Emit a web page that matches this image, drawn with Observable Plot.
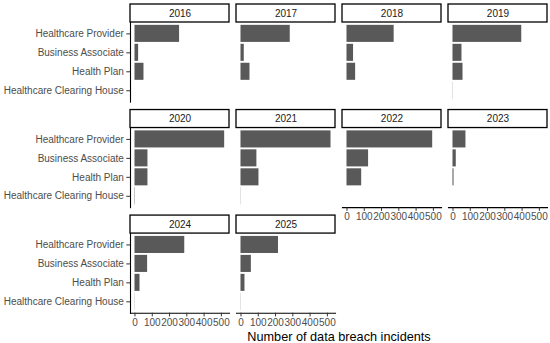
<!DOCTYPE html>
<html><head><meta charset="utf-8">
<script src="https://cdn.jsdelivr.net/npm/d3@7"></script>
<script src="https://cdn.jsdelivr.net/npm/@observablehq/plot@0.6"></script>
<style>body{margin:0;background:#fff;}</style>
</head><body><div id="chart"></div>
<script>
const years = [2016, 2017, 2018, 2019, 2020, 2021, 2022, 2023, 2024, 2025];
const categories = ["Healthcare Provider", "Business Associate", "Health Plan", "Healthcare Clearing House"];
const healthcareProvider = [258, 285, 273, 398, 519, 521, 496, 75, 288, 217];
const businessAssociate = [21, 19, 38, 52, 75, 92, 125, 19, 73, 60];
const healthPlan = [52, 52, 50, 58, 75, 104, 85, 6, 29, 23];
const clearingHouse = [0, 0, 0, 1, 2, 1, 0, 0, 1, 1];
const xTicks = [0, 100, 200, 300, 400, 500];
const xLabel = "Number of data breach incidents";

const series = [healthcareProvider, businessAssociate, healthPlan, clearingHouse];
const data = [];
years.forEach((yr, i) => {
  categories.forEach((c, j) => {
    data.push({year: yr, col: i % 4, row: Math.floor(i / 4), category: c, value: series[j][i]});
  });
});
const strips = years.map((yr, i) => ({year: String(yr), col: i % 4, row: Math.floor(i / 4)}));

const W = 550, H = 343, mt = 22, mb = 30.3, ml = 130, mr = 3;
const pI = 0.2455, stripH = 18;
const step = (H - mt - mb) / (3 - pI);
const panelH = step * (1 - pI);

const chart = Plot.plot({
  width: W, height: H,
  marginTop: mt, marginBottom: mb, marginLeft: ml, marginRight: mr,
  style: {fontFamily: "'Liberation Sans', Arial, sans-serif", fontSize: "10px", color: "#4d4d4d", background: "#fff"},
  fx: {domain: [0, 1, 2, 3], paddingInner: 0.066, paddingOuter: 0, round: false, axis: null},
  fy: {domain: [0, 1, 2], paddingInner: pI, paddingOuter: 0, round: false, axis: null},
  x: {domain: [-26, 547]},
  y: {domain: categories, paddingInner: 0.1, paddingOuter: 0.15, round: false},
  marks: [
    Plot.barX(data, {fx: "col", fy: "row", x: "value", y: "category", fill: "#595959"}),
    Plot.rect(strips, {fx: "col", fy: "row", fill: "white", stroke: "black", strokeWidth: 1.3, insetTop: -stripH, insetBottom: panelH}),
    Plot.text(strips, {fx: "col", fy: "row", text: "year", frameAnchor: "top", lineAnchor: "middle", dy: -stripH / 2, fill: "#1a1a1a", fontSize: 10}),
    Plot.frame({anchor: "left", facetAnchor: "left-empty", stroke: "#000", strokeWidth: 1.1}),
    Plot.frame({anchor: "bottom", facetAnchor: "bottom-empty", stroke: "#000", strokeWidth: 1.1}),
    Plot.axisY({tickSize: 3.7, tickPadding: 3, label: null, stroke: "#333", fill: "#4d4d4d", fontSize: 10}),
    Plot.axisX({ticks: xTicks, tickFormat: d => String(d), tickSize: 3.7, tickPadding: 2, stroke: "#333", fill: "#4d4d4d", fontSize: 10,
      label: xLabel, labelAnchor: "center", labelArrow: "none", labelOffset: 27.5})
  ]
});
document.getElementById("chart").appendChild(chart);
d3.select(chart).selectAll('[aria-label="x-axis label"] text').attr("font-size", 12.7).attr("fill", "#000");
</script>
</body></html>
